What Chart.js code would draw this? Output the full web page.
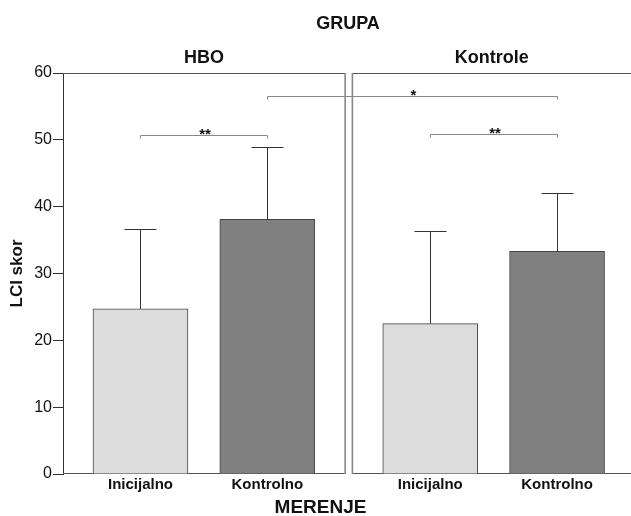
<!DOCTYPE html>
<html>
<head>
<meta charset="utf-8">
<script src="https://cdn.jsdelivr.net/npm/chart.js@4.4.1/dist/chart.umd.min.js"></script>
<style>
  body { margin: 0; background: #fff; }
  #wrap { width: 631px; height: 516px; }
</style>
</head>
<body>
<div id="wrap"><canvas id="lciChart" width="631" height="516"></canvas></div>
<script>
// Data
const groups = ['HBO', 'Kontrole'];
const categories = ['Inicijalno', 'Kontrolno'];
const hboMeans = [24.7, 38.1];
const hboUpper = [36.6, 49.0];        // mean + SD (top of error bar)
const kontroleMeans = [22.5, 33.3];
const kontroleUpper = [36.4, 42.0];
const barColors = ['#dcdcdc', '#808080'];

// significance brackets: bar index from -> to, height, label
const sigFrom = [0, 1, 2];
const sigTo = [1, 3, 3];
const sigLevel = [50.7, 56.6, 50.9];
const sigLabels = ['**', '*', '**'];

const yMin = 0, yMax = 60, yStep = 10;

// layout of the two panels on one linear x axis
const groupGap = 0.285;
const xMin = 0.389, xMax = 4.868;
const panelHalfGap = 0.0285;

const fontFamily = "'Liberation Sans', Arial, sans-serif";
Chart.defaults.font.family = fontFamily;

// build points
let xPos = [];
let means = [];
let upper = [];
let colors = [];
let tickText = [];
let allMeans = [hboMeans, kontroleMeans];
let allUpper = [hboUpper, kontroleUpper];
for (let g = 0; g < groups.length; g++) {
    for (let c = 0; c < categories.length; c++) {
        xPos.push(g * (categories.length + groupGap) + c + 1);
        means.push(allMeans[g][c]);
        upper.push(allUpper[g][c]);
        colors.push(barColors[c]);
        tickText.push(categories[c]);
    }
}

// panel borders, headings, error bars and brackets
const decorPlugin = {
    id: 'decor',
    beforeDatasetsDraw(chart) {
        let ctx = chart.ctx;
        let area = chart.chartArea;
        let xs = chart.scales.x;
        let mid = (xPos[categories.length - 1] + xPos[categories.length]) / 2;
        let leftEdge = xs.getPixelForValue(mid - panelHalfGap);
        let rightEdge = xs.getPixelForValue(mid + panelHalfGap);
        ctx.save();
        ctx.lineWidth = 1;
        ctx.strokeStyle = '#555';
        ctx.beginPath();
        ctx.moveTo(area.left, area.top + 0.5);
        ctx.lineTo(leftEdge, area.top + 0.5);
        ctx.moveTo(rightEdge, area.top + 0.5);
        ctx.lineTo(area.right, area.top + 0.5);
        ctx.moveTo(area.left, area.bottom - 0.5);
        ctx.lineTo(leftEdge, area.bottom - 0.5);
        ctx.moveTo(rightEdge, area.bottom - 0.5);
        ctx.lineTo(area.right, area.bottom - 0.5);
        ctx.stroke();
        ctx.strokeStyle = '#888';
        ctx.lineWidth = 1.6;
        ctx.beginPath();
        ctx.moveTo(leftEdge, area.top);
        ctx.lineTo(leftEdge, area.bottom);
        ctx.moveTo(rightEdge, area.top);
        ctx.lineTo(rightEdge, area.bottom);
        ctx.stroke();

        // headings
        ctx.fillStyle = '#111';
        ctx.textAlign = 'center';
        ctx.textBaseline = 'middle';
        ctx.font = 'bold 18px ' + fontFamily;
        ctx.fillText('GRUPA', (area.left + area.right) / 2 + 1, 24);
        ctx.fillText(groups[0], (area.left + leftEdge) / 2, 58);
        ctx.fillText(groups[1], (rightEdge + area.right) / 2, 58);
        // x axis title sits left of the chart-area centre, like the original
        ctx.font = 'bold 19px ' + fontFamily;
        ctx.fillText('MERENJE', chart.width / 2 + 5, 508);
        ctx.restore();
    },
    afterDatasetsDraw(chart) {
        let ctx = chart.ctx;
        let xs = chart.scales.x;
        let ys = chart.scales.y;
        ctx.save();
        // error bars (upper only)
        ctx.strokeStyle = '#333';
        ctx.lineWidth = 1;
        ctx.beginPath();
        for (let i = 0; i < xPos.length; i++) {
            let x = Math.round(xs.getPixelForValue(xPos[i])) + 0.5;
            let yBar = ys.getPixelForValue(means[i]);
            let yTop = Math.round(ys.getPixelForValue(upper[i])) + 0.5;
            ctx.moveTo(x, yBar);
            ctx.lineTo(x, yTop);
            ctx.moveTo(x - 16, yTop);
            ctx.lineTo(x + 16, yTop);
        }
        ctx.stroke();

        // significance brackets
        ctx.strokeStyle = '#888';
        ctx.fillStyle = '#111';
        ctx.font = 'bold 15px ' + fontFamily;
        ctx.textAlign = 'center';
        ctx.textBaseline = 'alphabetic';
        for (let i = 0; i < sigFrom.length; i++) {
            let xa = Math.round(xs.getPixelForValue(xPos[sigFrom[i]])) + 0.5;
            let xb = Math.round(xs.getPixelForValue(xPos[sigTo[i]])) + 0.5;
            let y = Math.round(ys.getPixelForValue(sigLevel[i])) + 0.5;
            ctx.beginPath();
            ctx.moveTo(xa, y + 3);
            ctx.lineTo(xa, y);
            ctx.lineTo(xb, y);
            ctx.lineTo(xb, y + 3);
            ctx.stroke();
            ctx.fillText(sigLabels[i], (xa + xb) / 2 + 1, y + 3);
        }
        ctx.restore();
    }
};

let ctx = document.getElementById('lciChart').getContext('2d');
new Chart(ctx, {
    type: 'bar',
    data: {
        datasets: [{
            label: 'LCI skor',
            data: xPos.map((x, i) => ({ x: x, y: means[i] })),
            backgroundColor: colors,
            borderColor: '#444',
            borderWidth: 1,
            barThickness: 95
        }]
    },
    options: {
        responsive: false,
        animation: false,
        layout: { padding: { top: 73, left: 0, right: 0, bottom: 0 } },
        plugins: {
            legend: { display: false },
            tooltip: { enabled: false }
        },
        scales: {
            x: {
                type: 'linear',
                offset: false,
                min: xMin,
                max: xMax,
                afterBuildTicks(scale) {
                    scale.ticks = xPos.map(v => ({ value: v }));
                },
                afterFit(scale) {
                    scale.height = 42;
                },
                ticks: {
                    autoSkip: false,
                    maxRotation: 0,
                    padding: 2,
                    color: '#111',
                    font: { size: 15, weight: 'bold' },
                    callback: (value, index) => tickText[index]
                },
                grid: { display: false, drawTicks: false },
                border: { display: false },
                title: { display: false }
            },
            y: {
                min: yMin,
                max: yMax,
                afterFit(scale) {
                    scale.width = 63;
                },
                ticks: {
                    stepSize: yStep,
                    padding: 1,
                    color: '#111',
                    font: { size: 16 }
                },
                grid: {
                    drawOnChartArea: false,
                    drawTicks: true,
                    tickLength: 10,
                    tickColor: '#333',
                    tickWidth: 1
                },
                border: { display: true, color: '#333', width: 1 },
                title: {
                    display: true,
                    text: 'LCI skor',
                    color: '#111',
                    font: { size: 17, weight: 'bold' },
                    padding: { top: 7, bottom: 0 }
                }
            }
        }
    },
    plugins: [decorPlugin]
});
</script>
</body>
</html>
